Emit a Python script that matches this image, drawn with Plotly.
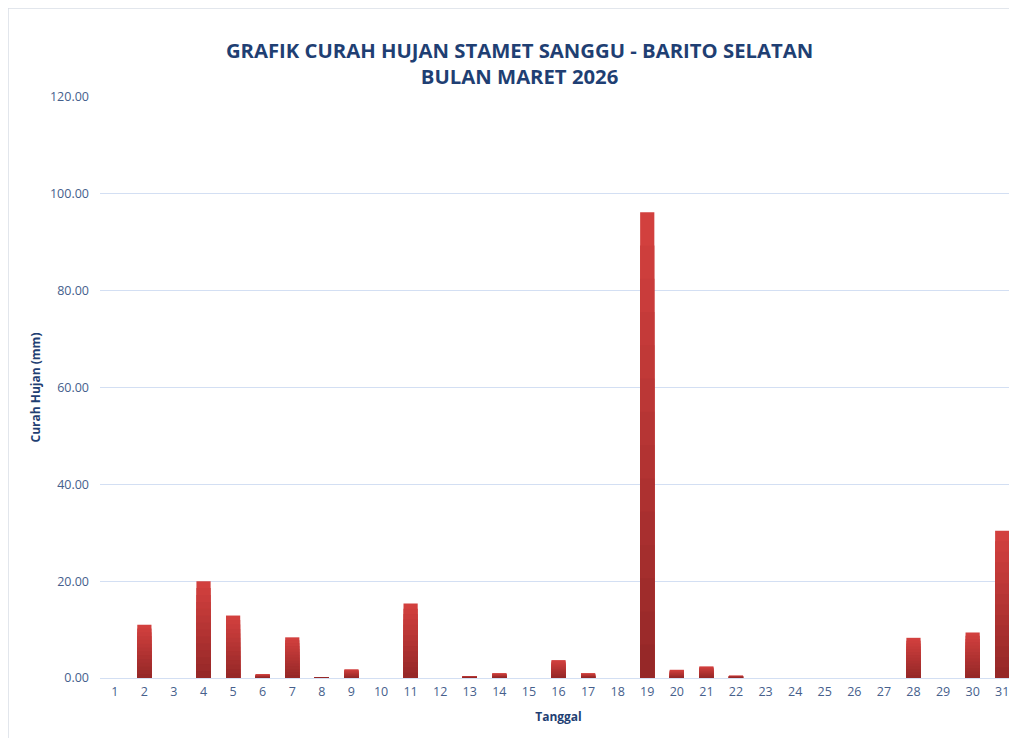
import plotly.graph_objects as go

days = [str(d) for d in range(1, 32)]
rain = [0.0, 11.0, 0.0, 20.0, 12.9, 0.8, 8.4, 0.2, 1.8, 0.0, 15.4, 0.0, 0.4, 1.0, 0.0,
        3.7, 1.0, 0.0, 96.2, 1.7, 2.4, 0.5, 0.0, 0.0, 0.0, 0.0, 0.0, 8.3, 0.0, 9.4, 30.4]
y_ticks = [0, 20, 40, 60, 80, 100, 120]

title_text = "GRAFIK CURAH HUJAN STAMET SANGGU - BARITO SELATAN<br>BULAN MARET 2026"
navy = "#1F3F73"
tick_col = "#46608C"
grid_col = "#D3DFF3"

fig = go.Figure()

# vertical gradient via overlaid bars (light top -> dark bottom)
steps = 14
top_rgb = (210, 64, 62)
bot_rgb = (150, 40, 40)
for k in range(steps):
    f = 1 - k / steps
    t = k / (steps - 1)
    c = tuple(int(round(top_rgb[i] + (bot_rgb[i] - top_rgb[i]) * t)) for i in range(3))
    fig.add_trace(go.Bar(
        x=days, y=[v * f for v in rain],
        marker=dict(color="rgb(%d,%d,%d)" % c, line=dict(width=0)),
        showlegend=False, hoverinfo="skip" if k else None,
    ))

fig.update_layout(
    width=1009, height=730,
    barmode="overlay", bargap=0.52,
    paper_bgcolor="white", plot_bgcolor="white",
    margin=dict(l=92, r=0, t=89, b=60),
    font=dict(family="Open Sans, Liberation Sans, sans-serif", color=tick_col),
    title=dict(text=title_text, x=0.507, xanchor="center", y=0.9315, yanchor="top",
               font=dict(size=20.3, color=navy, family="Open Sans, sans-serif", weight="bold")),
    xaxis=dict(type="category", showgrid=False, showline=True, linecolor=grid_col, linewidth=1,
               ticks="", tickfont=dict(size=12.5, color=tick_col), ticklabelstandoff=2,
               title=dict(text="<b>Tanggal</b>", font=dict(size=12, color=navy), standoff=13)),
    yaxis=dict(range=[0, 120], tickvals=y_ticks, tickformat=".2f", showgrid=True, gridcolor=grid_col,
               gridwidth=1, zeroline=False, showline=False, ticks="", ticklen=0,
               tickfont=dict(size=12.5, color=tick_col), ticklabelstandoff=10,
               title=dict(text="<b>Curah Hujan (mm)</b>", font=dict(size=12, color=navy), standoff=6)),
    shapes=[dict(type="rect", xref="paper", yref="paper", x0=-92 / 917, x1=1.2, y0=-0.2, y1=1 + 89 / 581,
                 line=dict(color="#D9DEE6", width=1.5), fillcolor="rgba(0,0,0,0)", layer="below")],
)

fig.write_html("out.html")
